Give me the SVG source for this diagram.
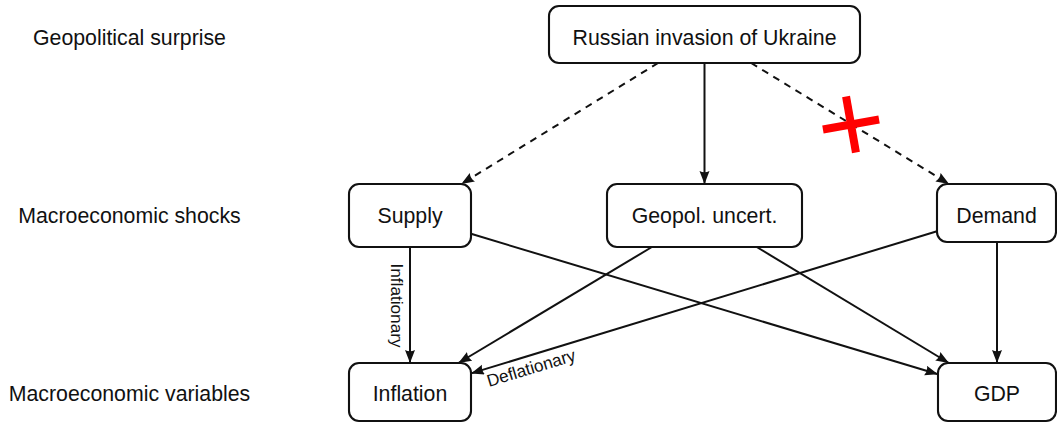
<svg xmlns="http://www.w3.org/2000/svg" width="1057" height="423" viewBox="0 0 1057 423">
<style>
text{font-family:"Liberation Sans",Arial,sans-serif;fill:#111;}
.lab{font-size:21.3px;text-anchor:middle;}
.node rect{fill:#fff;stroke:#111;stroke-width:2.1;}
.node text{font-size:21.3px;text-anchor:middle;}
.edge{stroke:#111;stroke-width:2;fill:none;}
.dash{stroke-dasharray:7,6;}
.small{font-size:17.2px;}
</style>
<defs>
<marker id="ah" markerUnits="userSpaceOnUse" markerWidth="15" markerHeight="12" refX="13" refY="5" orient="auto">
<path d="M0,0 Q2.5,5 0,10 L13,5 Z" fill="#111"/>
</marker>
</defs>
<rect width="1057" height="423" fill="#fff"/>
<g id="row-labels">
<text class="lab" x="129.5" y="44.5">Geopolitical surprise</text>
<text class="lab" x="129.5" y="222.5">Macroeconomic shocks</text>
<text class="lab" x="129.5" y="400.7">Macroeconomic variables</text>
</g>
<g id="connectors">
<line class="edge dash" x1="658.1" y1="63" x2="461.3" y2="184" marker-end="url(#ah)"/>
<line class="edge" x1="704.5" y1="63" x2="704.5" y2="184" marker-end="url(#ah)"/>
<line class="edge dash" x1="751.1" y1="63" x2="949.1" y2="184" marker-end="url(#ah)"/>
<line class="edge" x1="410" y1="247" x2="410" y2="363" marker-end="url(#ah)"/>
<line class="edge" x1="471" y1="233.8" x2="938" y2="374.3" marker-end="url(#ah)"/>
<line class="edge" x1="651.9" y1="247" x2="458.4" y2="363" marker-end="url(#ah)"/>
<line class="edge" x1="756.7" y1="247" x2="948.9" y2="363" marker-end="url(#ah)"/>
<line class="edge" x1="937" y1="231.2" x2="471" y2="373.4" marker-end="url(#ah)"/>
<line class="edge" x1="997" y1="242" x2="997" y2="363" marker-end="url(#ah)"/>
<text class="small" text-anchor="middle" transform="translate(390.5,305.5) rotate(90)">Inflationary</text>
<text class="small" text-anchor="start" transform="translate(489,387) rotate(-17)">Deflationary</text>
<g id="red-cross" transform="translate(851,124.5) rotate(-10)" fill="#ff0000">
<rect x="-28.5" y="-4" width="57" height="8"/>
<rect x="-4" y="-28.5" width="8" height="57"/>
</g>
</g>
<g id="node-invasion" class="node">
<rect x="549" y="6" width="311" height="57" rx="10"/>
<text x="704.5" y="45">Russian invasion of Ukraine</text>
</g>
<g id="node-supply" class="node">
<rect x="349" y="184" width="122" height="63" rx="10"/>
<text x="410" y="223">Supply</text>
</g>
<g id="node-geopol" class="node">
<rect x="607" y="184" width="195" height="63" rx="10"/>
<text x="704.5" y="223">Geopol. uncert.</text>
</g>
<g id="node-demand" class="node">
<rect x="937" y="184" width="119" height="58" rx="10"/>
<text x="996.5" y="223">Demand</text>
</g>
<g id="node-inflation" class="node">
<rect x="349" y="363" width="122" height="58" rx="10"/>
<text x="410" y="401">Inflation</text>
</g>
<g id="node-gdp" class="node">
<rect x="938" y="363" width="118" height="58" rx="10"/>
<text x="997" y="401">GDP</text>
</g>
</svg>
